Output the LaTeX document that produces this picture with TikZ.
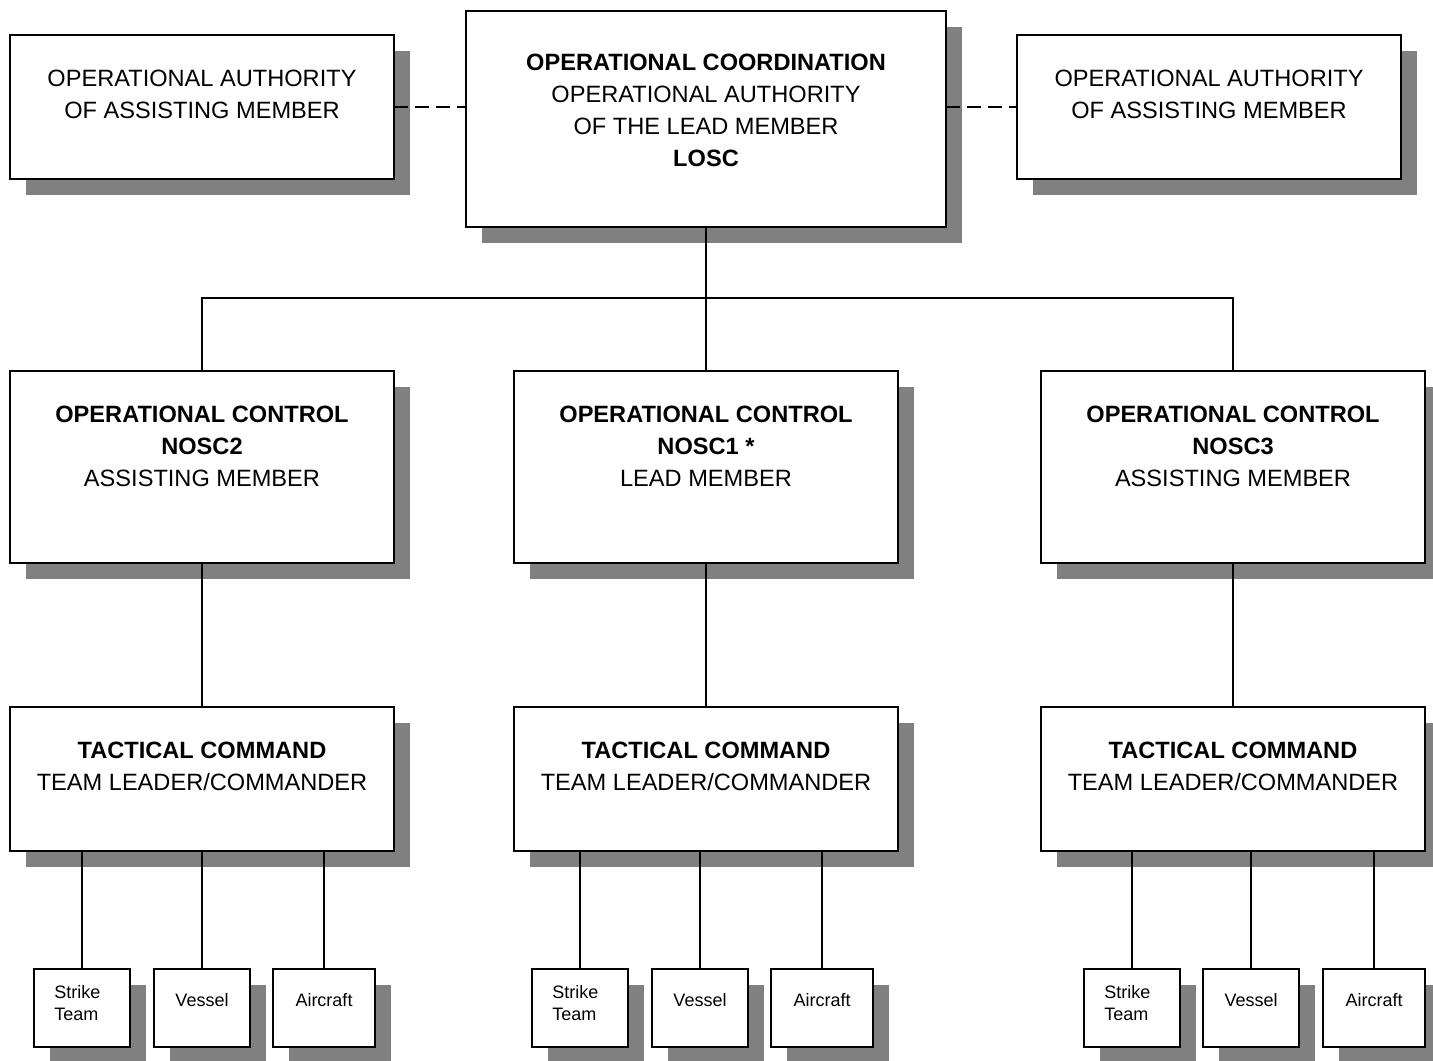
\documentclass[tikz,border=0pt]{standalone}
\usepackage{fontspec}
\setmainfont{Liberation Sans}
\usetikzlibrary{fit}
\definecolor{shadowgray}{HTML}{808080}
\tikzset{
  shadowfill/.style={fill=shadowgray},
  boxst/.style={draw=black, fill=white, line width=0.75pt, inner sep=0pt, outer sep=0pt},
  bigtext/.style={anchor=north, align=center, inner sep=0pt, font=\fontsize{11.8}{16}\selectfont},
  smalltext/.style={anchor=north, align=center, inner sep=0pt, font=\fontsize{9}{11}\selectfont},
  conn/.style={line width=0.65pt},
  dashconn/.style={line width=0.65pt, dash pattern=on 7pt off 3.5pt}
}
\newcommand\mkbox[5]{%
  \fill[shadowfill] (#2+16,#3+16) rectangle (#4+16,#5+16);
  \node[boxst, fit={(#2,#3)(#4,#5)}] (#1) {};}
\begin{document}
\begin{tikzpicture}[x=0.5pt, y=-0.5pt]
\useasboundingbox (0,0) rectangle (1433,1060);
\fill[white] (0,0) rectangle (1433,1060);
% top row
\mkbox{oal}{10}{35}{394}{179}
\mkbox{losc}{466}{11}{946}{227}
\mkbox{oar}{1017}{35}{1401}{179}
% middle row
\mkbox{oc2}{10}{371}{394}{563}
\mkbox{oc1}{514}{371}{898}{563}
\mkbox{oc3}{1041}{371}{1425}{563}
% bottom row
\mkbox{tc2}{10}{707}{394}{851}
\mkbox{tc1}{514}{707}{898}{851}
\mkbox{tc3}{1041}{707}{1425}{851}
% small boxes
\mkbox{st2}{34}{969}{130}{1047}
\mkbox{ve2}{154}{969}{250}{1047}
\mkbox{ai2}{273}{969}{375}{1047}
\mkbox{st1}{532}{969}{628}{1047}
\mkbox{ve1}{652}{969}{748}{1047}
\mkbox{ai1}{771}{969}{873}{1047}
\mkbox{st3}{1084}{969}{1180}{1047}
\mkbox{ve3}{1203}{969}{1299}{1047}
\mkbox{ai3}{1323}{969}{1425}{1047}
% texts
\node[bigtext] (toal) at ([yshift=-17.25pt]oal.north) {OPERATIONAL AUTHORITY\\OF ASSISTING MEMBER};
\node[bigtext] (toar) at ([yshift=-17.25pt]oar.north) {OPERATIONAL AUTHORITY\\OF ASSISTING MEMBER};
\node[bigtext] (tlosc) at ([yshift=-21.25pt]losc.north) {\textbf{OPERATIONAL COORDINATION}\\OPERATIONAL AUTHORITY\\OF THE LEAD MEMBER\\\textbf{LOSC}};
\node[bigtext] (toc2) at ([yshift=-17.25pt]oc2.north) {\textbf{OPERATIONAL CONTROL}\\\textbf{NOSC2}\\ASSISTING MEMBER};
\node[bigtext] (toc1) at ([yshift=-17.25pt]oc1.north) {\textbf{OPERATIONAL CONTROL}\\\textbf{NOSC1 *}\\LEAD MEMBER};
\node[bigtext] (toc3) at ([yshift=-17.25pt]oc3.north) {\textbf{OPERATIONAL CONTROL}\\\textbf{NOSC3}\\ASSISTING MEMBER};
\foreach \n in {tc1,tc2,tc3}{
  \node[bigtext] (t\n) at ([yshift=-17.25pt]\n.north) {\textbf{TACTICAL COMMAND}\\TEAM LEADER/COMMANDER};
}
\foreach \n in {1,2,3}{
  \node[smalltext, anchor=north west, align=left] (tst\n) at ([xshift=10pt, yshift=-7.8pt]st\n.north west) {Strike\\Team};
  \node[smalltext] (tve\n) at ([yshift=-11.8pt]ve\n.north) {Vessel};
  \node[smalltext] (tai\n) at ([yshift=-11.8pt]ai\n.north) {Aircraft};
}
% connectors
\coordinate (bus) at (706,298);
\draw[dashconn] (oal.east) -- (losc.west |- oal.east);
\draw[dashconn] (losc.east |- oar.west) -- (oar.west);
\draw[conn] (losc.south) -- (bus);
\draw[conn] (bus) -| (oc2.north);
\draw[conn] (bus) -| (oc3.north);
\draw[conn] (bus) -- (oc1.north);
\draw[conn] (oc2.south) -- (tc2.north);
\draw[conn] (oc1.south) -- (tc1.north);
\draw[conn] (oc3.south) -- (tc3.north);
\foreach \n in {1,2,3}{
  \draw[conn] (st\n.north) -- (st\n.north |- tc\n.south);
  \draw[conn] (ve\n.north) -- (ve\n.north |- tc\n.south);
  \draw[conn] (ai\n.north) -- (ai\n.north |- tc\n.south);
}
\end{tikzpicture}
\end{document}
